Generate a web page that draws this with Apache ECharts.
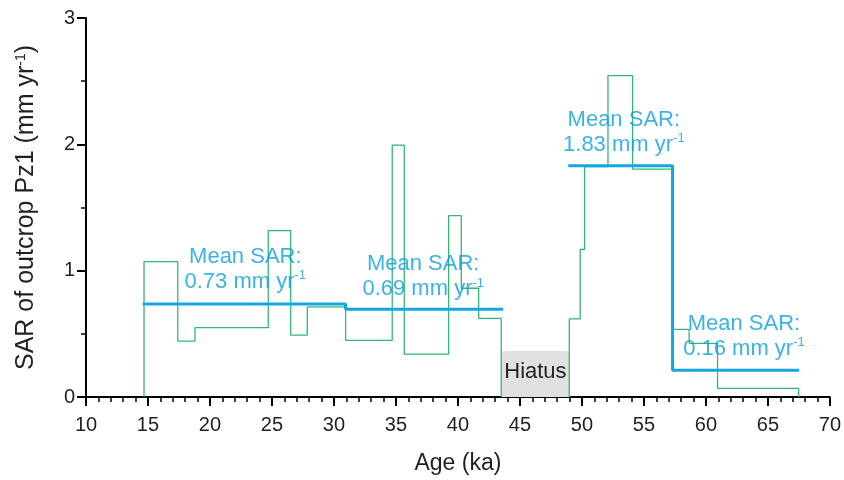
<!DOCTYPE html>
<html>
<head>
<meta charset="utf-8">
<script src="https://cdn.jsdelivr.net/npm/echarts@6/dist/echarts.min.js"></script>
<style>
  html, body { margin: 0; padding: 0; background: #fff; }
  #chart { width: 844px; height: 480px; }
</style>
</head>
<body>
<div id="chart"></div>
<script>
// SAR steps before the hiatus: edges (ka) and values (mm/yr)
const sarEdgesA = [14.68, 17.40, 18.79, 24.70, 26.51, 27.85, 30.94, 34.70, 35.67, 39.25, 40.27, 41.67, 43.49];
const sarValuesA = [1.071, 0.443, 0.549, 1.317, 0.489, 0.713, 0.449, 1.993, 0.340, 1.435, 0.861, 0.623];
// SAR steps after the hiatus
const sarEdgesB = [48.98, 49.86, 50.22, 52.10, 54.09, 57.31, 58.65, 60.94, 67.48];
const sarValuesB = [0.618, 1.169, 1.823, 2.544, 1.803, 0.536, 0.425, 0.069];

// mean SAR intervals
const meanStart = [14.57, 30.94, 48.90, 57.31];
const meanEnd = [30.94, 43.65, 57.31, 67.52];
const meanValues = [0.736, 0.694, 1.831, 0.211];
const meanTexts = ['0.73', '0.69', '1.83', '0.16'];
// label anchors (centre of text block)
const meanLabelX = [22.85, 37.2, 53.38, 63.07];
const meanLabelY = [1.012, 0.952, 2.095, 0.48];

const hiatus = [43.52, 48.98, 0.364];

function stepPoints(edges, values) {
  const pts = [[edges[0], 0]];
  for (let i = 0; i < values.length; i++) {
    pts.push([edges[i], values[i]]);
    pts.push([edges[i + 1], values[i]]);
  }
  pts.push([edges[edges.length - 1], 0]);
  return pts;
}

const greenData = stepPoints(sarEdgesA, sarValuesA).concat([null], stepPoints(sarEdgesB, sarValuesB));

const meanData = [];
for (let i = 0; i < meanValues.length; i++) {
  if (i > 0 && meanStart[i] !== meanEnd[i - 1]) meanData.push(null);
  meanData.push([meanStart[i], meanValues[i]]);
  meanData.push([meanEnd[i], meanValues[i]]);
}

const blue = '#14a6e2';
const textBlue = '#0a9fe0';
const green = '#33b872';
const font = 'Liberation Sans, Arial, sans-serif';

const chart = echarts.init(document.getElementById('chart'));
chart.setOption({
  animation: false,
  grid: { left: 86, right: 14, top: 18, bottom: 83 },
  xAxis: {
    type: 'value', min: 10, max: 70, interval: 5,
    name: 'Age (ka)', nameLocation: 'middle', nameGap: 55,
    nameTextStyle: { fontSize: 23, color: '#231f20', fontFamily: font },
    axisLine: { lineStyle: { color: '#000', width: 2 } },
    axisTick: { length: 9, lineStyle: { color: '#000', width: 2 } },
    minorTick: { show: true, splitNumber: 5, length: 5, lineStyle: { color: '#000', width: 1.5 } },
    axisLabel: { fontSize: 20, color: '#231f20', fontFamily: font, margin: 18 },
    splitLine: { show: false }
  },
  yAxis: {
    type: 'value', min: 0, max: 3, interval: 1,
    name: 'SAR of outcrop Pz1 (mm yr{s|-1})', nameLocation: 'middle', nameGap: 47,
    nameTextStyle: {
      fontSize: 25, color: '#231f20', fontFamily: font,
      rich: { s: { fontSize: 14, verticalAlign: 'top', lineHeight: 14, color: '#231f20', fontFamily: font } }
    },
    axisLine: { show: true, lineStyle: { color: '#000', width: 2 } },
    axisTick: { show: true, length: 9, lineStyle: { color: '#000', width: 2 } },
    minorTick: { show: true, splitNumber: 2, length: 5, lineStyle: { color: '#000', width: 1.5 } },
    axisLabel: { fontSize: 20, color: '#231f20', fontFamily: font, margin: 11 },
    splitLine: { show: false }
  },
  series: [
    {
      type: 'line', data: greenData, symbol: 'none', connectNulls: false,
      lineStyle: { color: green, width: 1.3 }, z: 3,
      markArea: {
        silent: true,
        itemStyle: { color: '#e3e1e0' },
        label: { show: true, position: 'insideBottom', distance: 14, fontSize: 22, color: '#231f20', fontFamily: font },
        data: [[{ name: 'Hiatus', coord: [hiatus[0], 0] }, { coord: [hiatus[1], hiatus[2]] }]]
      }
    },
    {
      type: 'line', data: meanData, symbol: 'none', connectNulls: false,
      lineStyle: { color: blue, width: 3 }, z: 4
    },
    {
      type: 'scatter', symbolSize: 0, z: 5, silent: true,
      itemStyle: { color: 'transparent' },
      data: meanLabelX.map((x, i) => ({ value: [x, meanLabelY[i]], t: meanTexts[i] })),
      label: {
        show: true, position: 'inside', align: 'center',
        formatter: p => '{a|Mean SAR:}\n{a|' + p.data.t + ' mm yr}{s|-1}',
        rich: {
          a: { fontSize: 22, lineHeight: 25, color: textBlue, fontFamily: font },
          s: { fontSize: 13, lineHeight: 13, verticalAlign: 'top', color: textBlue, fontFamily: font }
        }
      }
    }
  ]
});
</script>
</body>
</html>
